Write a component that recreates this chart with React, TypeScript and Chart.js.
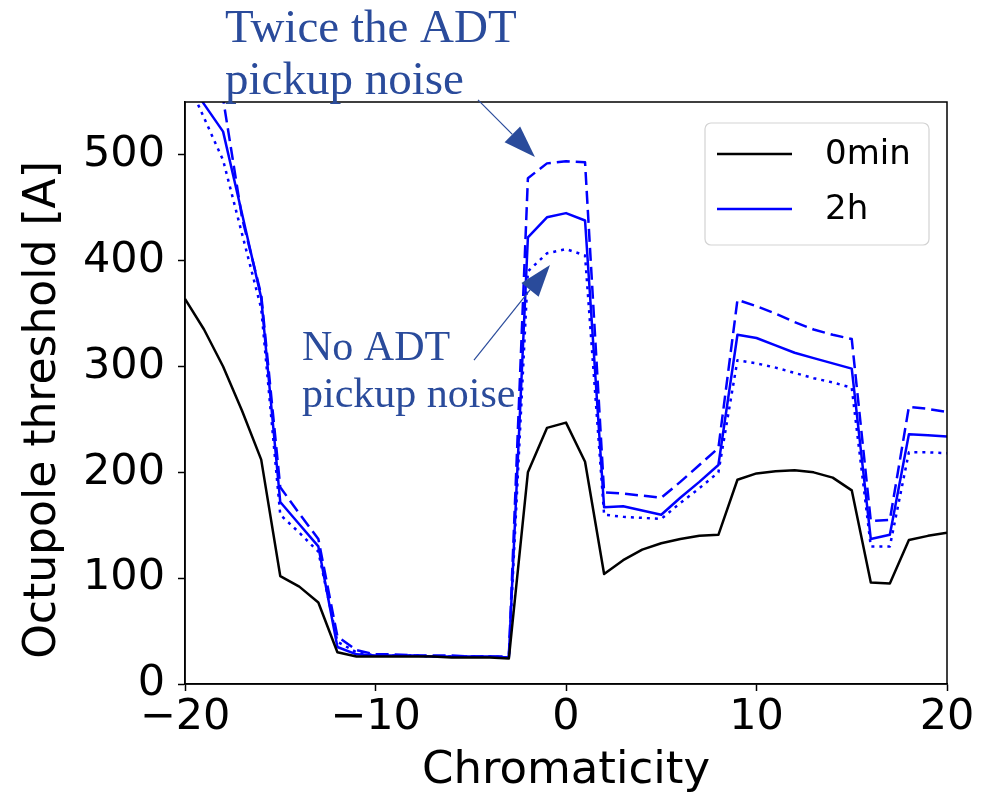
import React, { useEffect, useRef } from "react";
import { Chart, registerables } from "chart.js";

Chart.register(...registerables);

const chromaticity = [
  -20, -19, -18, -17, -16, -15, -14, -13, -12, -11, -10, -9, -8, -7, -6, -5, -4, -3, -2, -1,
  0, 1, 2, 3, 4, 5, 6, 7, 8, 9, 10, 11, 12, 13, 14, 15, 16, 17, 18, 19, 20,
];

const threshold0min = [
  364, 335, 300, 258, 212, 102, 92, 77, 30, 26, 26, 26, 26, 26, 25, 25, 25, 24, 200, 242,
  247, 210, 104, 117, 127, 133, 137, 140, 141, 193, 199, 201, 202, 200, 195, 183, 96, 95, 136, 140, 143,
];

const threshold2h = [
  575, 548, 522, 444, 365, 172, 151, 130, 35, 28, 27, 27, 27, 26, 26, 26, 26, 25, 422, 441,
  445, 438, 167, 168, 164, 160, 176, 191, 207, 330, 327, 320, 313, 308, 303, 298, 137, 141, 236, 235, 234,
];

const threshold2hTwiceNoise = [
  700, 630, 553, 440, 368, 186, 161, 137, 45, 32, 28, 28, 27, 27, 27, 26, 26, 26, 478, 492,
  494, 493, 181, 180, 178, 176, 191, 207, 223, 363, 357, 350, 342, 335, 330, 326, 154, 155, 262, 260, 257,
];

const threshold2hNoNoise = [
  575, 535, 495, 425, 355, 160, 143, 125, 40, 30, 27, 27, 27, 26, 26, 26, 26, 25, 390, 407,
  411, 405, 160, 158, 157, 156, 171, 185, 200, 306, 303, 299, 294, 289, 285, 280, 130, 130, 219, 219, 218,
];

const legendLabels = ["0min", "2h"];
const xTitle = "Chromaticity";
const yTitle = "Octupole threshold [A]";

const annotTwiceLines = ["Twice the ADT", "pickup noise"];
const annotNoLines = ["No ADT", "pickup noise"];

const ANNOT_COLOR = "#2a4b9b";

function toPts(xs: number[], ys: number[]) {
  return xs.map((x, i) => ({ x, y: ys[i] }));
}

function drawArrow(ctx: CanvasRenderingContext2D, x1: number, y1: number, x2: number, y2: number) {
  const ang = Math.atan2(y2 - y1, x2 - x1);
  const headLen = 32;
  const headW = 11;
  const bx = x2 - headLen * Math.cos(ang);
  const by = y2 - headLen * Math.sin(ang);
  ctx.save();
  ctx.strokeStyle = ANNOT_COLOR;
  ctx.fillStyle = ANNOT_COLOR;
  ctx.lineWidth = 1.2;
  ctx.beginPath();
  ctx.moveTo(x1, y1);
  ctx.lineTo(bx, by);
  ctx.stroke();
  ctx.beginPath();
  ctx.moveTo(x2, y2);
  ctx.lineTo(bx + headW * Math.sin(ang), by - headW * Math.cos(ang));
  ctx.lineTo(bx - headW * Math.sin(ang), by + headW * Math.cos(ang));
  ctx.closePath();
  ctx.fill();
  ctx.restore();
}

const overlayPlugin = {
  id: "overlay",
  afterDraw(chart: any) {
    const ctx: CanvasRenderingContext2D = chart.ctx;
    const { left, right, top, bottom } = chart.chartArea;
    const xs = chart.scales.x;
    const ys = chart.scales.y;
    // frame
    ctx.save();
    ctx.strokeStyle = "#000";
    ctx.lineWidth = 1.5;
    ctx.strokeRect(left, top, right - left, bottom - top);
    ctx.restore();

    // y-axis title
    ctx.save();
    ctx.translate(44, top + (bottom - top) / 2 + 17);
    ctx.rotate(-Math.PI / 2);
    ctx.fillStyle = "#000";
    ctx.font = "44px 'DejaVu Sans'";
    ctx.textAlign = "center";
    ctx.textBaseline = "middle";
    ctx.fillText(yTitle, 0, 0);
    ctx.restore();

    // legend
    ctx.save();
    const lx = right - 242;
    const ly = top + 21;
    const lw = 224;
    const lh = 122;
    ctx.beginPath();
    ctx.roundRect(lx, ly, lw, lh, 6);
    ctx.fillStyle = "rgba(255,255,255,0.85)";
    ctx.fill();
    ctx.strokeStyle = "#d3d3d3";
    ctx.lineWidth = 1.2;
    ctx.stroke();
    const legendColors = ["#000000", "#0000ff"];
    legendLabels.forEach((lab, i) => {
      const yy = ly + 31 + i * 55;
      ctx.beginPath();
      ctx.strokeStyle = legendColors[i];
      ctx.lineWidth = 2.5;
      ctx.moveTo(lx + 12, yy);
      ctx.lineTo(lx + 87, yy);
      ctx.stroke();
      ctx.fillStyle = "#000";
      ctx.font = "34px 'DejaVu Sans'";
      ctx.textBaseline = "middle";
      ctx.textAlign = "left";
      ctx.fillText(lab, lx + 120, yy + 1);
    });
    ctx.restore();

    // annotations
    ctx.save();
    ctx.fillStyle = ANNOT_COLOR;
    ctx.textAlign = "left";
    ctx.textBaseline = "alphabetic";
    ctx.font = "47px 'Liberation Serif'";
    const t1x = xs.getPixelForValue(-17.9);
    ctx.fillText(annotTwiceLines[0], t1x, ys.getPixelForValue(607));
    ctx.fillText(annotTwiceLines[1], t1x, ys.getPixelForValue(558));
    ctx.font = "42px 'Liberation Serif'";
    const t2x = xs.getPixelForValue(-13.86);
    ctx.fillText(annotNoLines[0], t2x, ys.getPixelForValue(306));
    ctx.fillText(annotNoLines[1], t2x, ys.getPixelForValue(262));
    ctx.restore();

    drawArrow(ctx, xs.getPixelForValue(-4.62), ys.getPixelForValue(552), xs.getPixelForValue(-1.63), ys.getPixelForValue(498));
    drawArrow(ctx, xs.getPixelForValue(-4.83), ys.getPixelForValue(306), xs.getPixelForValue(-0.84), ys.getPixelForValue(396));
  },
};

export default function App() {
  const ref = useRef<HTMLCanvasElement | null>(null);
  useEffect(() => {
    if (!ref.current) return;
    const common = {
      pointRadius: 0,
      borderWidth: 2.5,
      tension: 0,
      borderJoinStyle: "round" as const,
      fill: false,
    };
    const chart = new Chart(ref.current, {
      type: "line",
      data: {
        datasets: [
          { ...common, label: legendLabels[0], data: toPts(chromaticity, threshold0min), borderColor: "#000000" },
          { ...common, label: legendLabels[1], data: toPts(chromaticity, threshold2h), borderColor: "#0000ff" },
          { ...common, label: "2h twice noise", data: toPts(chromaticity, threshold2hTwiceNoise), borderColor: "#0000ff", borderDash: [13, 6] },
          { ...common, label: "2h no noise", data: toPts(chromaticity, threshold2hNoNoise), borderColor: "#0000ff", borderDash: [3, 5] },
        ],
      },
      options: {
        animation: false,
        responsive: false,
        parsing: false as any,
        layout: { padding: { top: 102, right: 43, left: 0, bottom: 0 } },
        plugins: { legend: { display: false }, tooltip: { enabled: false } },
        scales: {
          x: {
            type: "linear",
            min: -20,
            max: 20,
            afterFit: (s: any) => { s.height = 114; },
            ticks: {
              stepSize: 10,
              padding: 1,
              color: "#000",
              font: { family: "'DejaVu Sans'", size: 43 },
              callback: (v: any) => (Number(v) < 0 ? "\u2212" + Math.abs(Number(v)) : String(v)),
            },
            grid: { drawOnChartArea: false, drawTicks: true, tickLength: 7, tickWidth: 1.5, tickColor: "#000" },
            border: { display: true, color: "#000", width: 1.5 },
            title: {
              display: true,
              text: xTitle,
              color: "#000",
              font: { family: "'DejaVu Sans'", size: 45 },
              padding: { top: 0, bottom: 0 },
            },
          },
          y: {
            type: "linear",
            min: 0,
            max: 550,
            afterFit: (s: any) => { s.width = 185; },
            afterBuildTicks: (s: any) => { s.ticks = s.ticks.filter((t: any) => t.value % 100 === 0); },
            ticks: {
              stepSize: 100,
              padding: 13,
              color: "#000",
              font: { family: "'DejaVu Sans'", size: 43 },
            },
            grid: { drawOnChartArea: false, drawTicks: true, tickLength: 7, tickWidth: 1.5, tickColor: "#000" },
            border: { display: true, color: "#000", width: 1.5 },
            title: { display: false },
          },
        },
      },
      plugins: [overlayPlugin],
    });
    return () => chart.destroy();
  }, []);
  return (
    <div style={{ position: "fixed", left: 0, top: 0, width: 990, height: 798, background: "#fff" }}>
      <canvas ref={ref} width={990} height={798} style={{ display: "block" }} />
    </div>
  );
}
